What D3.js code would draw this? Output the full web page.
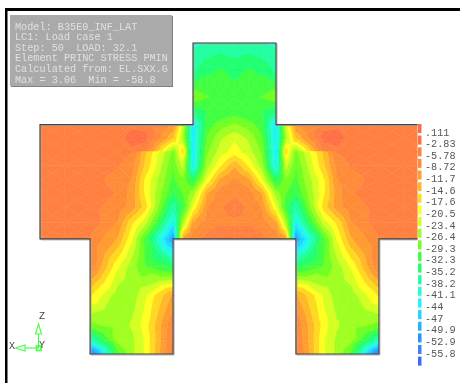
<!DOCTYPE html>
<html>
<head>
<meta charset="utf-8">
<script src="https://cdn.jsdelivr.net/npm/d3@7"></script>
<style>
html, body { margin: 0; padding: 0; background: #fff; }
svg { display: block; }
text { font-family: "Liberation Mono", monospace; white-space: pre; }
</style>
</head>
<body>
<div id="chart"></div>
<script>
const infoLines = [
    "Model: B35E0_INF_LAT",
    "LC1: Load case 1",
    "Step: 50  LOAD: 32.1",
    "Element PRINC STRESS PMIN",
    "Calculated from: EL.SXX.G",
    "Max = 3.06  Min = -58.8"
]

// contour levels, top of the legend first
const levelLabels = [".111","-2.83","-5.78","-8.72","-11.7","-14.6","-17.6","-20.5","-23.4","-26.4",
    "-29.3","-32.3","-35.2","-38.2","-41.1","-44","-47","-49.9","-52.9","-55.8"]
const bandColors = ["#ff6a48","#ff7044","#ff8040","#ff8c38","#ff9c30","#ffb828","#ffd820","#ffff20",
    "#d4ff20","#a0ff20","#70ff20","#40ff40","#20ff70","#20ffa0","#20ffd0","#20f0ff",
    "#20d4ff","#20b4ff","#2098ff","#4080ff","#4068ff"]
const maxValue = 3.06
const minValue = -58.8

// mesh nodes of the left half, model units; the right half is its mirror
const xNodes = [-7.03,-6.13,-5.22,-4.21,-3.70,-3.23,-2.22,-1.86,-1.50,-1.00,-0.52,0]
const zNodes = [11.24,10.26,9.29,8.78,8.29,7.81,7.32,7.30,6.80,6.29,5.82,5.31,4.74,4.16,3.15,2.13,1.05,0.5,0]
const _ = null

// PMIN stress at the nodes, rows follow zNodes, columns follow xNodes
const stress = [
    [ _, _, _, _, _, _, _, _,-39,-38,-37,-38],
    [ _, _, _, _, _, _, _, _,-36,-33,-32,-33],
    [ _, _, _, _, _, _, _, _,-27,-29,-31,-31],
    [ _, _, _, _, _, _, _, _,-34,-32,-32,-31],
    [-4,-4,-4,-4,-3.5,-4,-9,-22,-43,-31,-28,-26],
    [-4,-4,-4,-4,-1.5,-1.5,-14,-24,-43,-29,-24,-21],
    [-4,-4,-4,-5,-3.5,-5,-26,-16,-43,-27,-22,-19],
    [-4,-4,-4,-5,-5.5,-14,-27,-16,-43,-27,-22,-19],
    [-4,-4,-4,-5.5,-7.5,-15,-29,-22,-42,-25,-18,-12],
    [-4,-4,-4.5,-7,-9,-18,-30,-27,-33,-20,-11,-8],
    [-4,-4,-4,-6,-10,-18,-32,-29,-25,-12,-7,-6],
    [-4,-5.9,-5,-7,-10,-16,-37,-31,-20,-9,-6,-5],
    [-4,-4,-4,-9,-17,-22,-42,-24,-11,-7,-6,-6],
    [-4,-4,-6,-12,-20,-30,-50,-11,-6,-5,-4,-5],
    [ _, _,-6,-20,-25,-29,-33, _, _, _, _, _],
    [ _, _,-17,-25,-25,-21,-11, _, _, _, _, _],
    [ _, _,-27,-25,-23,-19,-6, _, _, _, _, _],
    [ _, _,-38,-25,-24,-20,-5, _, _, _, _, _],
    [ _, _,-56,-30,-24,-20,-4, _, _, _, _, _]
]

// wall outline, model units
const outlineNodes = [[7.03,8.29],[1.5,8.29],[1.5,11.24],[-1.5,11.24],[-1.5,8.29],[-7.03,8.29],[-7.03,4.16],
    [-5.22,4.16],[-5.22,0],[-2.22,0],[-2.22,4.16],[2.22,4.16],[2.22,0],[5.22,0],[5.22,4.16],[7.03,4.16]]

const width = 460
const height = 383

const svg = d3.select("#chart").append("svg")
    .attr("width", width)
    .attr("height", height)

const defs = svg.append("defs")
defs.append("filter").attr("id", "soft")
    .append("feGaussianBlur").attr("stdDeviation", 0.35)
defs.append("clipPath").attr("id", "cut")
    .append("rect").attr("x", 0).attr("y", 0).attr("width", 417.5).attr("height", height)

const root = svg.append("g").attr("filter", "url(#soft)")

const x = d3.scaleLinear().domain([-7.03, 7.03]).range([40, 429])
const z = d3.scaleLinear().domain([0, 11.24]).range([354, 43])

const levels = levelLabels.map(Number)
const color = d3.scaleThreshold()
    .domain(levels.slice().reverse())
    .range(bandColors.slice().reverse())

// full mesh from the mirrored half
const allX = xNodes.concat(xNodes.slice(0, -1).reverse().map(d => -d))
const field = stress.map(row => row.concat(row.slice(0, -1).reverse()))

// keep the part of a polygon whose value lies on one side of a level
function clip(poly, level, above) {
    const out = []
    poly.forEach((p, i) => {
        const q = poly[(i + 1) % poly.length]
        const pIn = above ? p[2] >= level : p[2] <= level
        const qIn = above ? q[2] >= level : q[2] <= level
        if (pIn) out.push(p)
        if (pIn !== qIn) {
            const t = (level - p[2]) / (q[2] - p[2])
            out.push([p[0] + t * (q[0] - p[0]), p[1] + t * (q[1] - p[1]), level])
        }
    })
    return out
}

const edges = [maxValue].concat(levels, [minValue])
const polys = []

function addTriangle(tri) {
    bandColors.forEach((c, i) => {
        let poly = clip(tri, edges[i + 1], true)
        if (poly.length) poly = clip(poly, edges[i], false)
        if (poly.length > 2) polys.push({ points: poly, mid: (edges[i] + edges[i + 1]) / 2 })
    })
}

for (let r = 0; r < zNodes.length - 1; r++) {
    for (let c = 0; c < allX.length - 1; c++) {
        const vals = [field[r][c], field[r][c + 1], field[r + 1][c + 1], field[r + 1][c]]
        if (vals.some(v => v === null)) continue
        const corners = [
            [allX[c], zNodes[r], vals[0]],
            [allX[c + 1], zNodes[r], vals[1]],
            [allX[c + 1], zNodes[r + 1], vals[2]],
            [allX[c], zNodes[r + 1], vals[3]]
        ]
        const centre = [d3.mean(corners, d => d[0]), d3.mean(corners, d => d[1]), d3.mean(vals)]
        corners.forEach((p, i) => addTriangle([p, corners[(i + 1) % 4], centre]))
    }
}

const mesh = root.append("g").attr("clip-path", "url(#cut)")

mesh.selectAll("path.band")
    .data(polys)
    .join("path")
    .attr("class", "band")
    .attr("d", d => "M" + d.points.map(p => `${x(p[0])},${z(p[1])}`).join("L") + "Z")
    .attr("fill", d => color(d.mid))
    .attr("stroke", d => color(d.mid))
    .attr("stroke-width", 0.5)

// shadow then outline
const outline = d3.line().x(d => x(d[0])).y(d => z(d[1]))
mesh.append("path")
    .attr("d", outline(outlineNodes))
    .attr("fill", "none")
    .attr("stroke", "#b0b0b0")
    .attr("stroke-width", 1)
    .attr("transform", "translate(1,1)")
mesh.append("path")
    .attr("d", outline(outlineNodes))
    .attr("fill", "none")
    .attr("stroke", "#444")
    .attr("stroke-width", 1.1)

// frame
root.append("rect").attr("x", 5).attr("y", 8).attr("width", width - 5).attr("height", 3).attr("fill", "#000")
root.append("rect").attr("x", 5).attr("y", 8).attr("width", 2.5).attr("height", height - 8).attr("fill", "#000")

// info box
root.append("rect").attr("x", 11).attr("y", 16).attr("width", 162).attr("height", 71).attr("fill", "#808080")
root.append("rect").attr("x", 10).attr("y", 15).attr("width", 162).attr("height", 71).attr("fill", "#aaaaaa")
root.append("g").selectAll("text")
    .data(infoLines)
    .join("text")
    .attr("x", 15)
    .attr("y", (d, i) => 29.5 + i * 10.6)
    .attr("fill", "#e0e0e0")
    .style("font-size", "10.2px")
    .text(d => d)

// legend
const legendY = d3.scaleLinear().domain([0, levelLabels.length - 1]).range([132, 353])
root.append("g").selectAll("rect")
    .data(bandColors)
    .join("rect")
    .attr("x", 418)
    .attr("y", (d, i) => legendY(i) - 8)
    .attr("width", 3.5)
    .attr("height", 9)
    .attr("fill", d => d)
root.append("g").selectAll("text")
    .data(levelLabels)
    .join("text")
    .attr("x", 425)
    .attr("y", (d, i) => legendY(i) + 3.5)
    .attr("fill", "#555")
    .style("font-size", "10.2px")
    .text(d => d)

// axis triad
const triad = root.append("g").attr("fill", "none").attr("stroke", "#40ff40").attr("stroke-width", 1.1)
triad.append("path").attr("d", "M38.5,348V334")
triad.append("path").attr("d", "M38.5,324L41.5,334H35.5Z")
triad.append("path").attr("d", "M38.5,348H25")
triad.append("path").attr("d", "M15.5,348L25,345V351Z")
triad.append("rect").attr("x", 36.5).attr("y", 346).attr("width", 4.5).attr("height", 4.5).attr("stroke-width", 1.6)
root.append("g").selectAll("text")
    .data([["Z", 39, 319], ["X", 9, 349], ["Y", 39, 348]])
    .join("text")
    .attr("x", d => d[1])
    .attr("y", d => d[2])
    .attr("fill", "#444")
    .style("font-size", "10px")
    .text(d => d[0])
</script>
</body>
</html>
